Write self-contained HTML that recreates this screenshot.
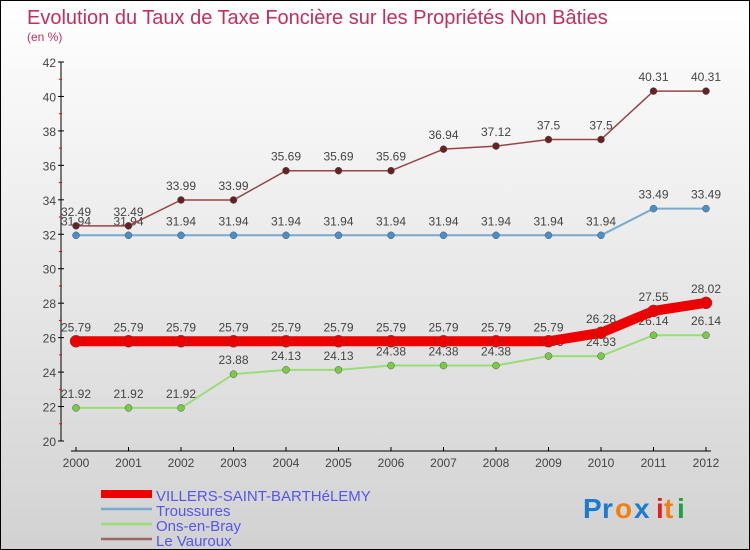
<!DOCTYPE html>
<html><head><meta charset="utf-8"><style>
body{margin:0}
#c{width:750px;height:550px;position:relative;overflow:hidden;box-sizing:border-box;border:1px solid #000;background:linear-gradient(#ffffff,#d2d2d2);font-family:"Liberation Sans",sans-serif}
text{font-family:"Liberation Sans",sans-serif}
</style></head><body>
<div id="c">
<svg id="s" width="750" height="550">
<text x="26" y="23" font-size="20" fill="#c0305a">Evolution du Taux de Taxe Foncière sur les Propriétés Non Bâties</text>
<text x="26" y="40" font-size="12" fill="#c0305a">(en %)</text>
<g id="axes"></g><g id="series"></g><g id="legend"></g>
<g font-size="28" font-weight="bold">
<text x="582" y="517" fill="#1a7bd0">P</text><text x="601" y="517" fill="#1a7bd0">r</text><text x="614" y="517" fill="#f08010">o</text><text x="633" y="517" fill="#1a7bd0">x</text><text x="655" y="517" fill="#e02020">i</text><text x="663" y="517" fill="#f08010">t</text><text x="676" y="517" fill="#20a040">i</text>
</g>
</svg>
</div>
<script>
const years=["2000","2001","2002","2003","2004","2005","2006","2007","2008","2009","2010","2011","2012"];
const yTicks=[20,22,24,26,28,30,32,34,36,38,40,42];
const villers=[25.79,25.79,25.79,25.79,25.79,25.79,25.79,25.79,25.79,25.79,26.28,27.55,28.02];
const troussures=[31.94,31.94,31.94,31.94,31.94,31.94,31.94,31.94,31.94,31.94,31.94,33.49,33.49];
const ons=[21.92,21.92,21.92,23.88,24.13,24.13,24.38,24.38,24.38,24.93,24.93,26.14,26.14];
const vauroux=[32.49,32.49,33.99,33.99,35.69,35.69,35.69,36.94,37.12,37.5,37.5,40.31,40.31];
const names=["VILLERS-SAINT-BARTHéLEMY","Troussures","Ons-en-Bray","Le Vauroux"];
const NS="http://www.w3.org/2000/svg";
const X=i=>75+i*52.5, Y=v=>440-(v-20)*(379/22);
function mk(t,a,p){const e=document.createElementNS(NS,t);for(const k in a)e.setAttribute(k,a[k]);p.appendChild(e);return e;}
const ax=document.getElementById('axes');
let l=mk('line',{x1:60,y1:61,x2:60,y2:440,stroke:'#000'},ax);

l=mk('line',{x1:70,y1:450,x2:710,y2:450,stroke:'#000'},ax);

yTicks.forEach((v,i)=>{mk('line',{x1:57,y1:Y(v),x2:63,y2:Y(v),stroke:'#000'},ax);
 if(i<yTicks.length-1)mk('line',{x1:58,y1:Y(v+1),x2:61,y2:Y(v+1),stroke:'#f00'},ax);
 const t=mk('text',{x:55,y:Y(v)+5,'text-anchor':'end','font-size':12,fill:'#444'},ax);t.textContent=v;
 });
years.forEach((y,i)=>{mk('line',{x1:X(i),y1:446,x2:X(i),y2:450,stroke:'#000'},ax);
 const t=mk('text',{x:X(i),y:466,'text-anchor':'middle','font-size':12,fill:'#444'},ax);t.textContent=y;
 });
const sg=document.getElementById('series');
function series(d,col,w,r,dot,name){const g=mk('g',{},sg);
 
 mk('polyline',{points:d.map((v,i)=>X(i)+','+Y(v)).join(' '),fill:'none',stroke:col,'stroke-width':w,'stroke-linejoin':'round'},g);
 d.forEach((v,i)=>{const c=mk('circle',{cx:X(i),cy:Y(v),r:r,fill:dot,stroke:'#555','stroke-width':0.5},g);
  
  const t=mk('text',{x:X(i),y:Y(v)-10,'text-anchor':'middle','font-size':12,fill:'#444'},g);t.textContent=v;
  });}
series(ons,'#99dd77',2,3.5,'#77cc44','series-ons-en-bray');
series(troussures,'#77aad0',2,3.5,'#4a90c8','series-troussures');
series(vauroux,'#994444',1.5,3.5,'#662222','series-le-vauroux');
series(villers,'#ee0000',10,6,'#ee0000','series-villers');
const lg=document.getElementById('legend');
const cols=['#ee0000','#77aad0','#99dd77','#996666'],ws=[8,2.5,2.5,2.5];
names.forEach((n,i)=>{const y=493+i*15;const g=mk('g',{},lg);
 
 mk('line',{x1:100,y1:y,x2:151,y2:y,stroke:cols[i],'stroke-width':ws[i]},g);
 const t=mk('text',{x:155,y:y+7,'font-size':15,fill:'#5555ee'},g);t.textContent=n;});
</script>
</body></html>
